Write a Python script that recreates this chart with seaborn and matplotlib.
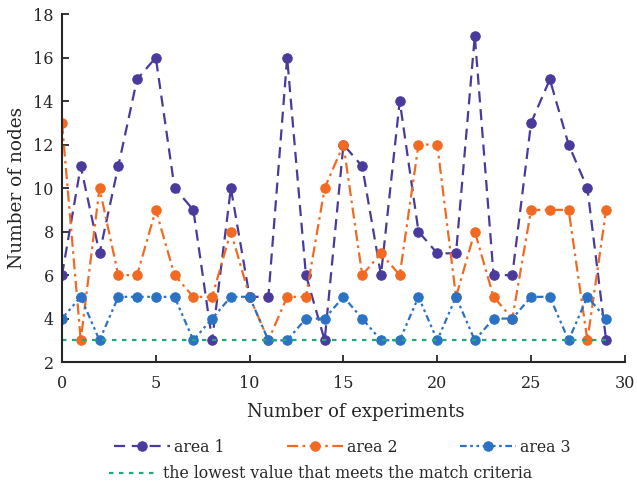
import matplotlib
matplotlib.use("Agg")
import matplotlib.pyplot as plt
import seaborn as sns

# ---------------------------------------------------------------------------
# Data
# ---------------------------------------------------------------------------

experiments = list(range(30))
area1 = [6, 11, 7, 11, 15, 16, 10, 9, 3, 10, 5, 5, 16, 6, 3, 12, 11, 6, 14, 8,
         7, 7, 17, 6, 6, 13, 15, 12, 10, 3]
area2 = [13, 3, 10, 6, 6, 9, 6, 5, 5, 8, 5, 3, 5, 5, 10, 12, 6, 7, 6, 12,
         12, 5, 8, 5, 4, 9, 9, 9, 3, 9]
area3 = [4, 5, 3, 5, 5, 5, 5, 3, 4, 5, 5, 3, 3, 4, 4, 5, 4, 3, 3, 5,
         3, 5, 3, 4, 4, 5, 5, 3, 5, 4]
criteria_x = [0, 29]
criteria_y = [3, 3]

PURPLE = "#4a3a9c"
ORANGE = "#f26a22"
BLUE   = "#2b72c4"
GREEN  = "#23a878"

sns.set_style("ticks")
plt.rcParams["font.family"] = ["DejaVu Serif"]
plt.rcParams["mathtext.fontset"] = "dejavuserif"

fig = plt.figure(figsize=(6.37, 4.86), dpi=100)
ax = fig.add_axes([0.0973, 0.255, 0.8837, 0.716])

series = [
    (area1, "area 1", PURPLE, (0, (5, 3))),
    (area2, "area 2", ORANGE, (0, (5, 2, 1.2, 2))),
    (area3, "area 3", BLUE,   (0, (3, 1.6, 1.2, 1.6, 1.2, 1.6))),
]
handles = []
for vals, name, col, ls in series:
    sns.lineplot(x=experiments, y=vals, ax=ax, color=col, linestyle=ls,
                 linewidth=1.6, marker="o", markersize=6.8,
                 markeredgecolor=col, markerfacecolor=col, label=name)
    handles.append(ax.lines[-1])

sns.lineplot(x=criteria_x, y=criteria_y, ax=ax, color=GREEN,
             linestyle=(0, (2, 2.5)), linewidth=1.6,
             label="the lowest value that meets the match criteria")
crit_handle = ax.lines[-1]
ax.get_legend().remove()

ax.set_xlim(0, 30)
ax.set_ylim(2, 18)
ax.set_xticks(range(0, 31, 5))
ax.set_yticks(range(2, 19, 2))
ax.tick_params(direction="in", length=5, width=1.3, labelsize=11.5)
ax.tick_params(axis="x", pad=9)
ax.tick_params(axis="y", pad=6)
for side in ["left", "bottom"]:
    ax.spines[side].set_linewidth(1.5)
sns.despine(ax=ax)

ax.set_xlabel("Number of experiments", fontsize=13, labelpad=9)
ax.xaxis.set_label_coords(0.522, -0.118)
ax.set_ylabel("Number of nodes", fontsize=13.3, labelpad=5)

fig.legend(handles=handles, labels=["area 1", "area 2", "area 3"],
           loc="center left", bbox_to_anchor=(0.160, 0.080), ncol=3,
           frameon=False, fontsize=11.3, handlelength=3.55,
           columnspacing=4.0, handletextpad=0.25, borderpad=0.3)
fig.legend(handles=[crit_handle],
           labels=["the lowest value that meets the match criteria"],
           loc="center left", bbox_to_anchor=(0.152, 0.025),
           frameon=False, fontsize=11.3, handlelength=3.05,
           handletextpad=0.38, borderpad=0.3)

fig.savefig("out.png", dpi=100)
